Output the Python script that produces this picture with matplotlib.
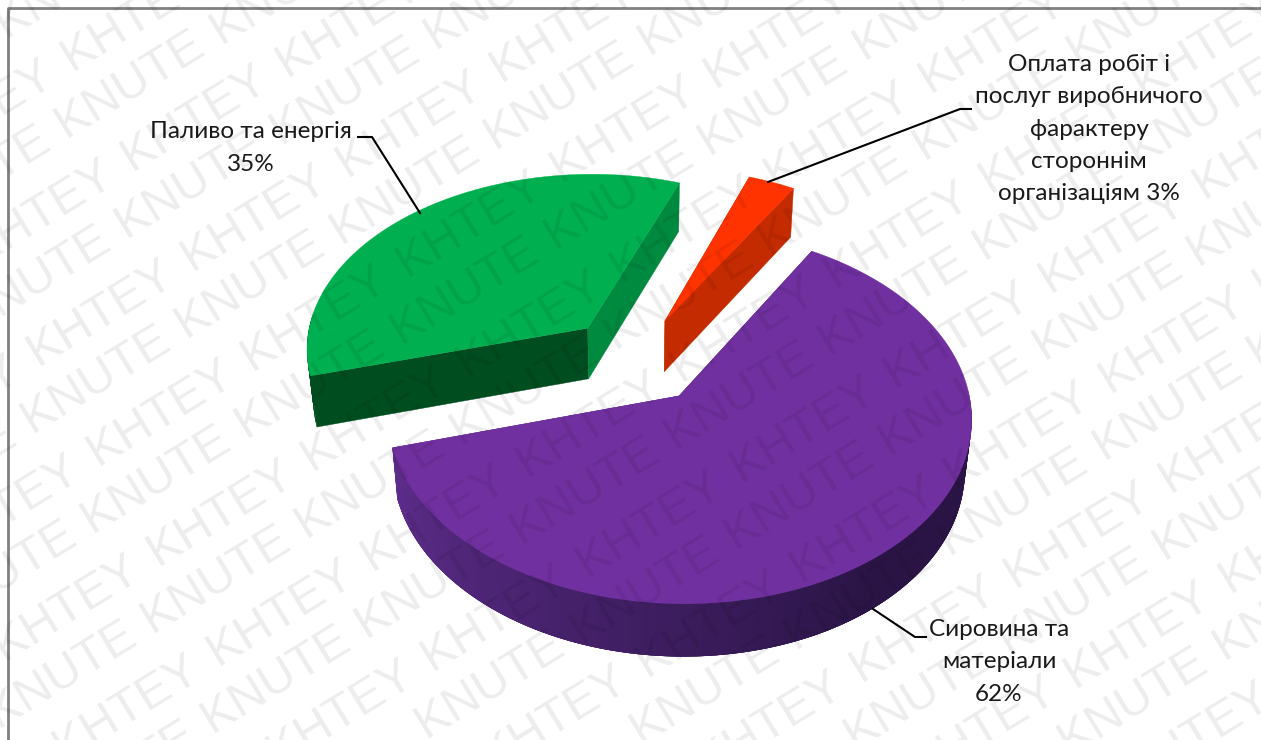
import numpy as np
import matplotlib
matplotlib.use('Agg')
import matplotlib.pyplot as plt
from matplotlib.patches import Polygon

categories = ['Сировина та\nматеріали\n62%', 'Паливо та енергія\n35%',
              'Оплата робіт і\nпослуг виробничого\nфарактеру\nстороннім\nорганізаціям 3%']
shares = [62, 35, 3]
top_colors = ['#7030a0', '#00b050', '#ff3300']
front_colors = ['#4a2375', '#004d20', '#c42b00']
cut_colors = ['#4a2375', '#008a40', '#c42b00']
watermark_words = ['KNUTE', 'KHTEY']

plt.rcParams['font.family'] = ['Lato', 'Noto Sans']

# view settings for the tilted pie, all in pixels of the saved image
cx, cy = 635, 360
rx, ry = 284, 177
persp = 0.108
tilt = 0.02
depth = 52
explode = 0.25
first_angle = 59


def project(x, y, z=0.0):
    # z = 0 is the top face, z = 1 the bottom one
    d = 1 + persp * y + tilt * z
    return cx + rx * x / d, cy + (-ry * y + depth * z) / d


def mix(c1, c2, t):
    a = np.array(matplotlib.colors.to_rgb(c1))
    b = np.array(matplotlib.colors.to_rgb(c2))
    return tuple(a + (b - a) * t)


fig = plt.figure(figsize=(12.61, 7.40), dpi=100)
ax = fig.add_axes([0, 0, 1, 1])
ax.set_xlim(0, 1261)
ax.set_ylim(740, 0)
ax.axis('off')

# frame, only the left and top sides are in view
ax.plot([8, 8, 1261], [740, 8, 8], color='#808080', lw=2, zorder=1)

angle = first_angle
for i, share in enumerate(shares):
    sweep = share / sum(shares) * 360
    a0, a1 = np.radians(angle), np.radians(angle - sweep)
    mid = (a0 + a1) / 2
    ox, oy = explode * np.cos(mid), explode * np.sin(mid)
    t = np.linspace(a0, a1, 240)
    xs, ys = ox + np.cos(t), oy + np.sin(t)

    # cut faces
    for k, color in [(0, front_colors[i]), (-1, cut_colors[i])]:
        quad = [project(ox, oy), project(xs[k], ys[k]), project(xs[k], ys[k], 1), project(ox, oy, 1)]
        ax.add_patch(Polygon(quad, closed=True, fc=color, ec=color, lw=0.3, zorder=2))

    # outer wall in overlapping strips so the shade can run along it
    for j in range(len(t) - 1):
        if np.sin(t[j]) > 0.05:
            continue
        u = (np.degrees(t[j]) % 360 - 197) / 110
        if i == 0:
            color = mix('#5e2d8c', '#2a1445', min(max(u, 0), 1))
        else:
            color = front_colors[i]
        e = min(j + 4, len(t) - 1)
        quad = [project(xs[j], ys[j]), project(xs[e], ys[e]),
                project(xs[e], ys[e], 1), project(xs[j], ys[j], 1)]
        ax.add_patch(Polygon(quad, closed=True, fc=color, ec='none', zorder=3))

    top = [project(ox, oy)] + [project(a, b) for a, b in zip(xs, ys)]
    ax.add_patch(Polygon(top, closed=True, fc=top_colors[i], ec=top_colors[i], lw=0.3, zorder=4))
    angle -= sweep

# leader lines
ax.plot([358, 372, 420], [137, 137, 213], color='black', lw=1.5, zorder=5)
ax.plot([971, 960, 768], [109, 109, 182], color='black', lw=1.5, zorder=5)
ax.plot([873, 915, 926], [609, 637, 637], color='black', lw=1.5, zorder=5)

label_xy = [(999, 662), (251, 148), (1089, 129)]
for name, (lx, ly) in zip(categories, label_xy):
    ax.text(lx, ly, name, ha='center', va='center', fontsize=17.5, color='#1a1a1a',
            linespacing=1.65, zorder=6)

# repeated stamp over everything, each row holds a single word
rot = np.radians(31.5)
ux, uy = np.cos(rot), -np.sin(rot)
word_step = 181
row_starts = [(92, 533), (158, 566)]
for word, (x0, y0) in zip(watermark_words, row_starts):
    for r in range(-9, 9):
        for c in range(-9, 12):
            x = x0 + r * 60 + c * word_step * ux
            y = y0 + r * 100 + c * word_step * uy
            if x < -170 or x > 1280 or y < -20 or y > 830:
                continue
            ax.text(x, y, word, rotation=np.degrees(rot), rotation_mode='anchor', ha='left',
                    va='baseline', fontsize=35, family='Liberation Sans', color='black',
                    alpha=0.075, zorder=7, clip_on=True)

fig.savefig('out.png', dpi=100)
